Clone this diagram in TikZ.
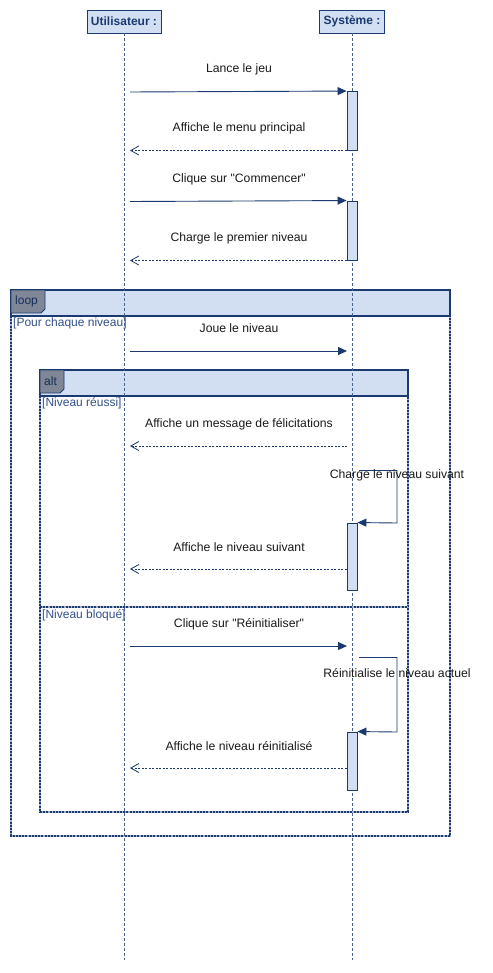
\documentclass[tikz,border=0pt]{standalone}
\usepackage{fontspec}
\setmainfont{Liberation Sans}[Ligatures=TeXOff]
\usetikzlibrary{arrows.meta}
\definecolor{navy}{HTML}{1B3A6F}
\definecolor{lightb}{HTML}{D2DEF1}
\definecolor{taggray}{HTML}{7F8696}
\definecolor{guardc}{HTML}{34508A}
\definecolor{txt}{HTML}{1A1A1A}
\begin{document}
\begin{tikzpicture}[x=1pt,y=-1pt,
  lbl/.style={font=\fontsize{12.2}{14}\selectfont, text=txt, anchor=base, inner sep=0pt},
  guard/.style={font=\fontsize{12}{14}\selectfont, text=guardc, anchor=base west, inner sep=0pt},
  tagtxt/.style={font=\fontsize{12}{14}\selectfont, text=navy!80!black, anchor=base west, inner sep=0pt},
  head/.style={draw=navy, fill=lightb, line width=0.9pt, minimum width=74pt, minimum height=23pt, inner sep=0pt,
    font=\fontsize{12}{14}\selectfont\bfseries, text=navy},
  life/.style={draw=navy!80, line width=0.7pt, dash pattern=on 3pt off 2pt},
  act/.style={draw=navy, fill=lightb, line width=0.9pt, minimum width=10pt, inner sep=0pt},
  msg/.style={draw=navy, line width=0.9pt, -{Triangle[length=9pt,width=8pt]}},
  ret/.style={draw=navy, line width=0.8pt, dash pattern=on 2pt off 1.5pt, -{Straight Barb[length=8pt,width=9pt]}},
  frameA/.style={draw=navy!40, line width=2pt},
  frameB/.style={draw=navy, line width=2pt, dash pattern=on 2pt off 1.2pt},
  hdr/.style={draw=navy, fill=lightb, line width=1.1pt},
  hdrline/.style={draw=navy, line width=0.8pt, dash pattern=on 2pt off 1.5pt},
  tagbox/.style={draw=navy, fill=taggray, line width=0.8pt}
]
\useasboundingbox[fill=white] (0,0) rectangle (492,973);

% ---- loop frame ----
\draw[frameA] (11,316) -- (11,836) -- (450,836) -- (450,316);
\draw[frameB] (11,316) -- (11,836) -- (450,836) -- (450,316);
\draw[hdr] (11,290) rectangle (450,316);
\draw[hdrline] (11,316) -- (450,316);
\draw[tagbox] (11,290) -- (45,290) -- (45,309) -- (41,313) -- (11,313) -- cycle;
\node[tagtxt] (tloop) at (15,304) {loop};
\node[guard] (g1) at (13,326) {[Pour chaque niveau]};

% ---- alt frame ----
\draw[frameA] (40,396) -- (40,812) -- (408,812) -- (408,396);
\draw[frameB] (40,396) -- (40,812) -- (408,812) -- (408,396);
\draw[frameA] (40,606.5) -- (408,606.5);
\draw[frameB] (40,606.5) -- (408,606.5);
\draw[hdr] (40,370) rectangle (408,396);
\draw[hdrline] (40,396) -- (408,396);
\draw[tagbox] (40,370) -- (64,370) -- (64,389) -- (60,393) -- (40,393) -- cycle;
\node[tagtxt] (talt) at (44,385) {alt};
\node[guard] (g2) at (42,406) {[Niveau réussi]};
\node[guard] (g3) at (42,618) {[Niveau bloqué]};

% ---- lifelines ----
\node[head] (u) at (124,21.5) {Utilisateur :};
\node[head, minimum width=65pt] (s) at (352,21.5) {Système :};
\coordinate (uend) at (124,960);
\coordinate (send) at (352,960);
\draw[life] (u.south) -- (uend);
\draw[life] (s.south) -- (send);

% ---- activations ----
\node[act, minimum height=59pt] (a1) at (352,121) {};
\node[act, minimum height=59pt] (a2) at (352,230.5) {};
\node[act, minimum height=67pt] (a3) at (352,556.5) {};
\node[act, minimum height=58pt] (a4) at (352,761) {};

% ---- messages ----
\coordinate (m1s) at (130,92);
\draw[msg] (m1s) -- (a1.north west);
\node[lbl] (l1) at (239,72.5) {Lance le jeu};

\coordinate (m2e) at (130,150.5);
\draw[ret] (a1.south west |- m2e) -- (m2e);
\node[lbl] (l2) at (239,132) {Affiche le menu principal};

\coordinate (m3s) at (130,201.5);
\draw[msg] (m3s) -- (a2.north west);
\node[lbl] (l3) at (239,182.5) {Clique sur "Commencer"};

\coordinate (m4e) at (130,260.5);
\draw[ret] (a2.south west |- m4e) -- (m4e);
\node[lbl] (l4) at (239,242) {Charge le premier niveau};

\coordinate (m5s) at (130,351);
\coordinate (m5e) at (347,351);
\draw[msg] (m5s) -- (m5e);
\node[lbl] (l5) at (239,332) {Joue le niveau};

\coordinate (m6s) at (347,446);
\coordinate (m6e) at (130,446);
\draw[ret] (m6s) -- (m6e);
\node[lbl] (l6) at (239,427) {Affiche un message de félicitations};

\coordinate (s1a) at (359,470.5);
\coordinate (s1b) at (397,523);
\draw[msg] (s1a) -| (s1b) -- (a3.north east);
\node[lbl] (l7) at (397,478.5) {Charge le niveau suivant};

\coordinate (m7e) at (130,569);
\draw[ret] (a3.west |- m7e) -- (m7e);
\node[lbl] (l8) at (239,551) {Affiche le niveau suivant};

\coordinate (m8s) at (130,646);
\coordinate (m8e) at (347,646);
\draw[msg] (m8s) -- (m8e);
\node[lbl] (l9) at (239,627) {Clique sur "Réinitialiser"};

\coordinate (s2a) at (359,657.5);
\coordinate (s2b) at (397,732);
\draw[msg] (s2a) -| (s2b) -- (a4.north east);
\node[lbl] (l10) at (397,677) {Réinitialise le niveau actuel};

\coordinate (m9e) at (130,768);
\draw[ret] (a4.west |- m9e) -- (m9e);
\node[lbl] (l11) at (239,750) {Affiche le niveau réinitialisé};
\end{tikzpicture}
\end{document}
